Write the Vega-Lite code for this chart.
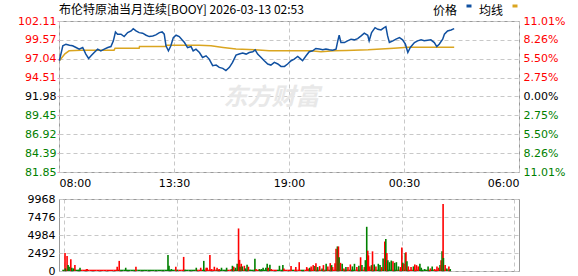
{
  "$schema": "https://vega.github.io/schema/vega-lite/v6.json",
  "padding": {"left": 14, "top": 0, "right": 0, "bottom": 0},
  "background": "white",
  "spacing": 3,
  "config": {
    "view": {"stroke": "#999999", "strokeWidth": 1},
    "axis": {"labelFont": "DejaVu Sans", "labelFontSize": 11, "grid": true, "gridColor": "#c8c8c8", "gridOpacity": 1, "gridWidth": 1, "gridDash": [4, 3], "domain": false, "ticks": false, "title": null, "labelColor": "#000000"},
    "axisRight": {"grid": false}
  },
  "datasets": {
    "wm": [{"t": 610, "p": 91.8, "label": "东方财富"}],
    "price": [
      {"t":1,"p":96.78},{"t":11,"p":98.78},{"t":20,"p":99.00},{"t":30,"p":98.87},{"t":39,"p":98.78},{"t":49,"p":98.55},{"t":58,"p":98.34},{"t":68,"p":98.55},{"t":77,"p":97.67},{"t":85,"p":97.08},{"t":92,"p":97.44},{"t":101,"p":97.88},{"t":111,"p":98.34},{"t":120,"p":98.11},{"t":130,"p":98.34},{"t":140,"p":98.55},{"t":149,"p":98.68},{"t":156,"p":99.45},{"t":162,"p":100.64},{"t":168,"p":100.34},{"t":178,"p":100.34},{"t":187,"p":100.02},{"t":197,"p":100.55},{"t":207,"p":100.78},{"t":213,"p":101.08},{"t":221,"p":100.78},{"t":230,"p":100.55},{"t":240,"p":100.47},{"t":250,"p":100.20},{"t":259,"p":100.02},{"t":269,"p":100.11},{"t":278,"p":100.24},{"t":288,"p":100.55},{"t":296,"p":100.64},{"t":302,"p":100.34},{"t":307,"p":98.78},{"t":314,"p":98.11},{"t":321,"p":98.78},{"t":328,"p":99.88},{"t":336,"p":100.20},{"t":345,"p":100.02},{"t":353,"p":99.58},{"t":360,"p":99.22},{"t":369,"p":98.55},{"t":379,"p":98.68},{"t":385,"p":98.11},{"t":393,"p":98.34},{"t":403,"p":97.88},{"t":412,"p":97.22},{"t":422,"p":97.44},{"t":431,"p":97.00},{"t":441,"p":96.11},{"t":451,"p":96.20},{"t":460,"p":95.89},{"t":470,"p":95.75},{"t":479,"p":95.45},{"t":489,"p":95.89},{"t":498,"p":96.55},{"t":508,"p":97.54},{"t":517,"p":97.67},{"t":527,"p":97.80},{"t":537,"p":97.67},{"t":546,"p":97.88},{"t":556,"p":97.98},{"t":563,"p":98.24},{"t":570,"p":97.67},{"t":580,"p":97.22},{"t":589,"p":96.78},{"t":599,"p":96.34},{"t":608,"p":96.20},{"t":618,"p":96.55},{"t":628,"p":96.34},{"t":637,"p":96.02},{"t":647,"p":96.02},{"t":656,"p":96.34},{"t":666,"p":96.78},{"t":675,"p":97.00},{"t":685,"p":97.35},{"t":694,"p":97.00},{"t":699,"p":96.78},{"t":709,"p":97.44},{"t":718,"p":97.98},{"t":728,"p":98.11},{"t":737,"p":98.42},{"t":747,"p":98.34},{"t":757,"p":98.24},{"t":766,"p":98.34},{"t":776,"p":98.24},{"t":785,"p":98.20},{"t":795,"p":98.34},{"t":800,"p":99.45},{"t":804,"p":100.20},{"t":809,"p":99.22},{"t":819,"p":99.22},{"t":828,"p":99.45},{"t":838,"p":99.67},{"t":847,"p":99.58},{"t":857,"p":99.75},{"t":867,"p":100.11},{"t":876,"p":100.47},{"t":886,"p":100.20},{"t":890,"p":99.45},{"t":897,"p":100.55},{"t":907,"p":101.22},{"t":915,"p":101.00},{"t":924,"p":100.91},{"t":933,"p":101.22},{"t":938,"p":101.35},{"t":943,"p":100.11},{"t":948,"p":99.22},{"t":958,"p":99.45},{"t":967,"p":99.67},{"t":977,"p":99.88},{"t":986,"p":99.58},{"t":994,"p":99.00},{"t":1001,"p":97.88},{"t":1008,"p":98.55},{"t":1020,"p":99.22},{"t":1029,"p":99.45},{"t":1039,"p":99.58},{"t":1048,"p":99.45},{"t":1058,"p":99.54},{"t":1067,"p":99.58},{"t":1077,"p":99.22},{"t":1084,"p":98.68},{"t":1091,"p":99.00},{"t":1101,"p":99.67},{"t":1106,"p":100.34},{"t":1115,"p":100.78},{"t":1125,"p":100.91},{"t":1134,"p":101.08}
    ],
    "avg": [
      {"t":1,"p":96.78},{"t":17,"p":97.71},{"t":29,"p":98.11},{"t":63,"p":98.20},{"t":158,"p":98.20},{"t":161,"p":98.47},{"t":230,"p":98.47},{"t":231,"p":98.68},{"t":307,"p":98.68},{"t":308,"p":98.87},{"t":402,"p":98.87},{"t":436,"p":98.78},{"t":471,"p":98.55},{"t":508,"p":98.34},{"t":562,"p":98.24},{"t":603,"p":98.11},{"t":723,"p":98.11},{"t":752,"p":97.98},{"t":789,"p":98.11},{"t":824,"p":98.15},{"t":887,"p":98.24},{"t":924,"p":98.34},{"t":961,"p":98.47},{"t":1001,"p":98.60},{"t":1134,"p":98.60}
    ],
    "vol": [
      {"t":3,"v":2490,"c":"r"},{"t":4,"v":362,"c":"g"},{"t":9,"v":2080,"c":"r"},{"t":12,"v":815,"c":"g"},{"t":15,"v":590,"c":"g"},{"t":20,"v":1630,"c":"r"},{"t":23,"v":453,"c":"g"},{"t":28,"v":362,"c":"g"},{"t":32,"v":815,"c":"r"},{"t":37,"v":136,"c":"g"},{"t":44,"v":181,"c":"g"},{"t":47,"v":453,"c":"g"},{"t":66,"v":272,"c":"r"},{"t":68,"v":272,"c":"r"},{"t":156,"v":590,"c":"r"},{"t":162,"v":1400,"c":"r"},{"t":168,"v":136,"c":"g"},{"t":181,"v":453,"c":"g"},{"t":211,"v":590,"c":"r"},{"t":305,"v":2220,"c":"g"},{"t":308,"v":725,"c":"g"},{"t":315,"v":272,"c":"g"},{"t":328,"v":590,"c":"r"},{"t":351,"v":1950,"c":"r"},{"t":355,"v":181,"c":"g"},{"t":388,"v":453,"c":"g"},{"t":401,"v":453,"c":"r"},{"t":410,"v":1400,"c":"g"},{"t":417,"v":453,"c":"r"},{"t":420,"v":453,"c":"r"},{"t":428,"v":2220,"c":"r"},{"t":433,"v":272,"c":"r"},{"t":441,"v":590,"c":"r"},{"t":449,"v":453,"c":"r"},{"t":455,"v":272,"c":"r"},{"t":462,"v":453,"c":"g"},{"t":477,"v":453,"c":"g"},{"t":491,"v":272,"c":"r"},{"t":494,"v":725,"c":"g"},{"t":498,"v":590,"c":"r"},{"t":503,"v":453,"c":"g"},{"t":508,"v":1000,"c":"g"},{"t":512,"v":5890,"c":"r"},{"t":515,"v":1540,"c":"r"},{"t":517,"v":590,"c":"g"},{"t":520,"v":1000,"c":"r"},{"t":523,"v":634,"c":"g"},{"t":529,"v":725,"c":"r"},{"t":532,"v":362,"c":"g"},{"t":537,"v":860,"c":"g"},{"t":541,"v":590,"c":"r"},{"t":546,"v":181,"c":"g"},{"t":560,"v":1680,"c":"g"},{"t":563,"v":272,"c":"r"},{"t":568,"v":136,"c":"r"},{"t":573,"v":272,"c":"g"},{"t":579,"v":272,"c":"g"},{"t":584,"v":453,"c":"g"},{"t":592,"v":453,"c":"g"},{"t":596,"v":1000,"c":"g"},{"t":599,"v":453,"c":"r"},{"t":604,"v":860,"c":"g"},{"t":608,"v":272,"c":"r"},{"t":618,"v":136,"c":"r"},{"t":632,"v":725,"c":"g"},
      {"t":642,"v":815,"c":"g"},{"t":645,"v":362,"c":"r"},{"t":666,"v":680,"c":"r"},{"t":680,"v":544,"c":"r"},{"t":690,"v":1220,"c":"r"},{"t":712,"v":544,"c":"r"},{"t":716,"v":362,"c":"r"},{"t":721,"v":453,"c":"g"},{"t":725,"v":634,"c":"r"},{"t":731,"v":815,"c":"r"},{"t":736,"v":680,"c":"g"},{"t":739,"v":1090,"c":"r"},{"t":744,"v":544,"c":"g"},{"t":750,"v":680,"c":"r"},{"t":757,"v":362,"c":"g"},{"t":761,"v":815,"c":"r"},{"t":769,"v":997,"c":"g"},{"t":774,"v":634,"c":"r"},{"t":781,"v":1090,"c":"r"},{"t":785,"v":815,"c":"g"},{"t":788,"v":544,"c":"r"},{"t":795,"v":1090,"c":"r"},{"t":798,"v":3080,"c":"r"},{"t":802,"v":3400,"c":"g"},{"t":805,"v":3400,"c":"r"},{"t":807,"v":1900,"c":"g"},{"t":811,"v":1130,"c":"r"},{"t":816,"v":997,"c":"g"},{"t":821,"v":362,"c":"r"},{"t":827,"v":544,"c":"g"},{"t":833,"v":544,"c":"r"},{"t":840,"v":906,"c":"r"},{"t":846,"v":634,"c":"g"},{"t":852,"v":997,"c":"g"},{"t":859,"v":544,"c":"r"},{"t":865,"v":725,"c":"g"},{"t":870,"v":1900,"c":"r"},{"t":874,"v":815,"c":"g"},{"t":881,"v":544,"c":"r"},{"t":884,"v":1500,"c":"g"},{"t":888,"v":6120,"c":"g"},{"t":891,"v":2810,"c":"r"},{"t":893,"v":2170,"c":"r"},{"t":897,"v":634,"c":"r"},{"t":902,"v":815,"c":"g"},{"t":905,"v":2720,"c":"r"},{"t":910,"v":906,"c":"g"},{"t":915,"v":634,"c":"r"},{"t":922,"v":997,"c":"g"},{"t":927,"v":815,"c":"g"},{"t":932,"v":544,"c":"r"},{"t":936,"v":1720,"c":"g"},{"t":941,"v":4080,"c":"r"},{"t":944,"v":4440,"c":"g"},{"t":947,"v":2500,"c":"r"},{"t":950,"v":1500,"c":"g"},{"t":955,"v":1220,"c":"g"},{"t":960,"v":1450,"c":"g"},{"t":965,"v":1360,"c":"r"},{"t":970,"v":1130,"c":"g"},{"t":975,"v":1220,"c":"g"},{"t":981,"v":634,"c":"g"},{"t":987,"v":544,"c":"r"},{"t":991,"v":3260,"c":"r"},{"t":994,"v":1130,"c":"g"},{"t":997,"v":997,"c":"r"},{"t":1001,"v":2490,"c":"g"},{"t":1003,"v":2580,"c":"r"},{"t":1006,"v":1360,"c":"g"},{"t":1010,"v":634,"c":"r"},{"t":1018,"v":544,"c":"r"},{"t":1025,"v":634,"c":"g"},{"t":1029,"v":906,"c":"r"},{"t":1034,"v":815,"c":"r"},{"t":1039,"v":634,"c":"r"},{"t":1044,"v":997,"c":"g"},{"t":1048,"v":453,"c":"g"},{"t":1058,"v":272,"c":"g"},{"t":1068,"v":634,"c":"g"},{"t":1075,"v":362,"c":"r"},{"t":1080,"v":634,"c":"g"},{"t":1087,"v":272,"c":"r"},{"t":1094,"v":634,"c":"r"},{"t":1099,"v":453,"c":"r"},{"t":1103,"v":815,"c":"g"},{"t":1106,"v":1500,"c":"r"},{"t":1109,"v":2720,"c":"g"},{"t":1112,"v":9290,"c":"r"},{"t":1113,"v":1810,"c":"g"},{"t":1118,"v":815,"c":"r"},{"t":1123,"v":362,"c":"g"},{"t":1129,"v":634,"c":"r"},{"t":1133,"v":272,"c":"g"}
    ],
    "base": [
      {"t":0,"v":180,"c":"g"},{"t":10,"v":180,"c":"g"},{"t":20,"v":180,"c":"g"},{"t":30,"v":180,"c":"g"},{"t":40,"v":180,"c":"g"},{"t":50,"v":180,"c":"r"},{"t":60,"v":180,"c":"r"},{"t":70,"v":180,"c":"r"},{"t":80,"v":180,"c":"r"},{"t":90,"v":180,"c":"r"},{"t":100,"v":180,"c":"r"},{"t":110,"v":180,"c":"r"},{"t":120,"v":180,"c":"r"},{"t":130,"v":180,"c":"r"},{"t":140,"v":180,"c":"r"},{"t":150,"v":180,"c":"r"},{"t":160,"v":180,"c":"g"},{"t":170,"v":180,"c":"g"},{"t":180,"v":180,"c":"g"},{"t":190,"v":180,"c":"g"},{"t":200,"v":180,"c":"g"},{"t":210,"v":180,"c":"g"},{"t":220,"v":180,"c":"g"},{"t":230,"v":180,"c":"g"},{"t":240,"v":180,"c":"g"},{"t":250,"v":180,"c":"g"},{"t":260,"v":180,"c":"g"},{"t":270,"v":180,"c":"g"},{"t":280,"v":180,"c":"g"},{"t":290,"v":180,"c":"g"},{"t":300,"v":180,"c":"g"},{"t":310,"v":180,"c":"g"},{"t":320,"v":180,"c":"g"},{"t":330,"v":180,"c":"g"},{"t":340,"v":180,"c":"r"},{"t":350,"v":180,"c":"r"},{"t":360,"v":180,"c":"g"},{"t":370,"v":180,"c":"g"},{"t":380,"v":180,"c":"g"},{"t":390,"v":180,"c":"r"},{"t":400,"v":180,"c":"r"},{"t":410,"v":180,"c":"g"},{"t":420,"v":180,"c":"r"},{"t":430,"v":180,"c":"r"},{"t":440,"v":180,"c":"r"},{"t":450,"v":180,"c":"g"},{"t":460,"v":180,"c":"g"},{"t":470,"v":180,"c":"g"},{"t":480,"v":180,"c":"r"},{"t":490,"v":180,"c":"r"},{"t":500,"v":180,"c":"g"},{"t":510,"v":180,"c":"r"},{"t":520,"v":180,"c":"g"},{"t":530,"v":180,"c":"r"},{"t":540,"v":180,"c":"g"},{"t":550,"v":180,"c":"g"},{"t":560,"v":180,"c":"g"},{"t":570,"v":180,"c":"r"},{"t":580,"v":180,"c":"g"},{"t":590,"v":180,"c":"g"},{"t":600,"v":180,"c":"g"},{"t":610,"v":180,"c":"r"},{"t":620,"v":180,"c":"r"},{"t":630,"v":180,"c":"g"},{"t":640,"v":180,"c":"g"},{"t":650,"v":180,"c":"r"},{"t":660,"v":180,"c":"r"},{"t":670,"v":180,"c":"g"},{"t":680,"v":180,"c":"r"},{"t":690,"v":180,"c":"r"},{"t":700,"v":180,"c":"g"},{"t":710,"v":180,"c":"r"},{"t":720,"v":180,"c":"g"},{"t":730,"v":180,"c":"r"},{"t":740,"v":180,"c":"g"},{"t":750,"v":180,"c":"r"},{"t":760,"v":180,"c":"g"},{"t":770,"v":180,"c":"r"},{"t":780,"v":180,"c":"g"},{"t":790,"v":180,"c":"r"},{"t":800,"v":180,"c":"g"},{"t":810,"v":180,"c":"r"},{"t":820,"v":180,"c":"g"},{"t":830,"v":180,"c":"r"},{"t":840,"v":180,"c":"g"},{"t":850,"v":180,"c":"g"},{"t":860,"v":180,"c":"r"},{"t":870,"v":180,"c":"g"},{"t":880,"v":180,"c":"r"},{"t":890,"v":180,"c":"r"},{"t":900,"v":180,"c":"g"},{"t":910,"v":180,"c":"r"},{"t":920,"v":180,"c":"g"},{"t":930,"v":180,"c":"r"},{"t":940,"v":180,"c":"g"},{"t":950,"v":180,"c":"g"},{"t":960,"v":180,"c":"g"},{"t":970,"v":180,"c":"g"},{"t":980,"v":180,"c":"r"},{"t":990,"v":180,"c":"r"},{"t":1000,"v":180,"c":"g"},{"t":1010,"v":180,"c":"r"},{"t":1020,"v":180,"c":"r"},{"t":1030,"v":180,"c":"r"},{"t":1040,"v":180,"c":"g"},{"t":1050,"v":180,"c":"g"},{"t":1060,"v":180,"c":"g"},{"t":1070,"v":180,"c":"r"},{"t":1080,"v":180,"c":"g"},{"t":1090,"v":180,"c":"r"},{"t":1100,"v":180,"c":"r"},{"t":1110,"v":180,"c":"g"},{"t":1120,"v":180,"c":"r"},{"t":1130,"v":180,"c":"g"}
    ]
  },
  "vconcat": [
    {
      "width": 460,
      "height": 151,
      "title": {"text": "布伦特原油当月连续[BOOY] 2026-03-13 02:53", "anchor": "start", "frame": "group", "font": "Noto Sans CJK SC", "fontSize": 12, "fontWeight": "normal", "color": "#000000", "offset": -2},
      "encoding": {
        "x": {"field": "t", "type": "quantitative", "scale": {"domain": [0, 1320], "nice": false, "zero": false},
          "axis": {"values": [0, 330, 660, 990, 1320], "grid": true, "labelPadding": 5, "labelFlush": true,
            "labelExpr": "datum.value == 0 ? '08:00' : datum.value == 330 ? '13:30' : datum.value == 660 ? '19:00' : datum.value == 990 ? '00:30' : '06:00'"}},
        "y": {"field": "p", "type": "quantitative", "scale": {"domain": [81.85, 102.11], "nice": false, "zero": false},
          "axis": {"orient": "left", "values": [81.85, 84.39, 86.92, 89.45, 91.98, 94.51, 97.04, 99.57, 102.11], "labelExpr": "format(datum.value, '.2f')",
            "grid": true, "ticks": true, "tickSize": 2, "tickColor": "#f0a0c8", "labelPadding": 1, "minExtent": 44, "maxExtent": 44, "labelOverlap": false, "labelFlush": false,
            "labelColor": {"condition": [{"test": "datum.value > 92", "value": "#ff0000"}, {"test": "datum.value > 91.9", "value": "#000000"}], "value": "#008000"}}}
      },
      "layer": [
        {
          "data": {"name": "wm"},
          "mark": {"type": "text", "font": "Noto Sans CJK SC", "fontSize": 24, "fontWeight": "bold", "fontStyle": "italic", "color": "#e8e8e8"},
          "encoding": {"text": {"field": "label"}}
        },
        {
          "data": {"name": "avg"},
          "mark": {"type": "line", "strokeWidth": 1.5},
          "encoding": {
            "y": {"field": "p", "type": "quantitative", "scale": {"domain": [81.85, 102.11], "nice": false, "zero": false},
              "axis": {"orient": "right", "values": [81.85, 84.39, 86.92, 89.45, 91.98, 94.51, 97.04, 99.57, 102.11], "grid": false, "labelPadding": 4, "labelOverlap": false, "labelFlush": false,
                "labelExpr": "abs(datum.value-91.98) > 9 ? '11.01%' : abs(datum.value-91.98) > 6 ? '8.26%' : abs(datum.value-91.98) > 4 ? '5.50%' : abs(datum.value-91.98) > 1 ? '2.75%' : '0.00%'",
                "labelColor": {"condition": [{"test": "datum.value > 92", "value": "#ff0000"}, {"test": "datum.value > 91.9", "value": "#000000"}], "value": "#008000"}}},
            "color": {"datum": "均线", "type": "nominal"}
          }
        },
        {
          "data": {"name": "price"},
          "mark": {"type": "line", "strokeWidth": 1.5},
          "encoding": {
            "y": {"field": "p", "type": "quantitative", "scale": {"domain": [81.85, 102.11], "nice": false, "zero": false}, "axis": null},
            "color": {"datum": "价格", "type": "nominal",
              "scale": {"domain": ["价格", "均线"], "range": ["#1050a0", "#daa520"]},
              "legend": {"orient": "none", "legendX": 404, "legendY": -21, "direction": "horizontal", "title": null,
                "symbolType": "stroke", "symbolSize": 25, "symbolStrokeWidth": 3,
                "labelFont": "Noto Sans CJK SC", "labelFontSize": 12, "labelColor": "#000000",
                "labelAlign": "right", "labelOffset": -18, "columnPadding": 0, "labelBaseline": "top"}}
          }
        }
      ],
      "resolve": {"axis": {"y": "independent"}}
    },
    {
      "width": 460,
      "height": 72,
      "encoding": {
        "x": {"field": "t", "type": "quantitative", "scale": {"domain": [0, 1320], "nice": false, "zero": false},
          "axis": {"values": [0, 330, 660, 990, 1320], "grid": true, "labels": false}},
        "y": {"field": "v", "type": "quantitative", "scale": {"domain": [0, 9968], "nice": false},
          "axis": {"values": [0, 2492, 4984, 7476, 9968], "format": "d", "grid": true, "labelPadding": 4, "minExtent": 44, "maxExtent": 44, "labelOverlap": false, "labelFlush": false}},
        "fill": {"field": "c", "type": "nominal", "scale": {"domain": ["r", "g"], "range": ["#ff0000", "#008000"]}, "legend": null}
      },
      "layer": [
        {"data": {"name": "base"}, "mark": {"type": "bar", "width": 3.5}},
        {"data": {"name": "vol"}, "mark": {"type": "bar", "width": 1.6}}
      ]
    }
  ]
}
